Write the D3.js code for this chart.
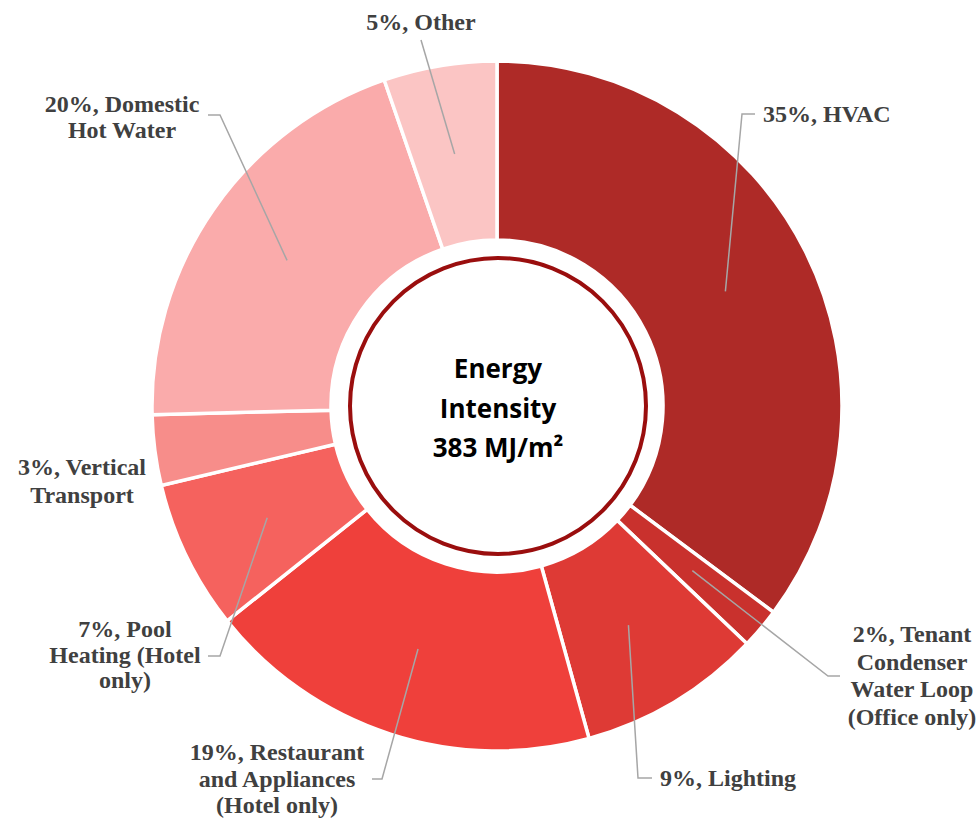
<!DOCTYPE html>
<html>
<head>
<meta charset="utf-8">
<script src="https://cdn.jsdelivr.net/npm/d3@7"></script>
<style>
  html, body { margin: 0; padding: 0; background: #ffffff; }
  svg { display: block; }
</style>
</head>
<body>
<svg id="chart" width="979" height="823"></svg>
<script>
// ---- data ----
const categories = [
  "HVAC",
  "Tenant Condenser Water Loop (Office only)",
  "Lighting",
  "Restaurant and Appliances (Hotel only)",
  "Pool Heating (Hotel only)",
  "Vertical Transport",
  "Domestic Hot Water",
  "Other"
];
// shares (%); labels show them rounded
const values = [35.2, 1.9, 8.6, 18.6, 7.0, 3.3, 20.1, 5.3];
const labelLines = [
  ["35%, HVAC"],
  ["2%, Tenant", "Condenser", "Water Loop", "(Office only)"],
  ["9%, Lighting"],
  ["19%, Restaurant", "and Appliances", "(Hotel only)"],
  ["7%, Pool", "Heating (Hotel", "only)"],
  ["3%, Vertical", "Transport"],
  ["20%, Domestic", "Hot Water"],
  ["5%, Other"]
];
const centerTitle = ["Energy", "Intensity", "383 MJ/m\u00B2"];

// ---- styles / layout ----
const colors = ["#AE2A27", "#C9312D", "#DE3A35", "#EF403B", "#F5625E", "#F78D8A", "#FAABAB", "#FBC5C4"];
const cx = 497, cy = 406, outerR = 345, innerR = 166, ringR = 148;

// label placement: text anchor x, first baseline y, anchor, line height, elbow points for leader
const labelLayout = [
  { x: 763, y: 122, anchor: "start",  lh: 27,   elbow: [[742, 114], [755, 114]] },
  { x: 912, y: 642, anchor: "middle", lh: 27.7, elbow: [[828, 676], [840, 676]] },
  { x: 660, y: 786, anchor: "start",  lh: 27,   elbow: [[638, 778], [652, 778]] },
  { x: 277, y: 760, anchor: "middle", lh: 26.5, elbow: [[382, 779], [372, 779]] },
  { x: 125, y: 637, anchor: "middle", lh: 25.7, elbow: [[220, 656], [208, 656]] },
  { x: 82,  y: 475, anchor: "middle", lh: 27.5, elbow: null },
  { x: 122, y: 112, anchor: "middle", lh: 25.6, elbow: [[220, 115], [208, 115]] },
  { x: 421, y: 30,  anchor: "middle", lh: 27,   elbow: [[421, 40]] }
];

const svg = d3.select("#chart");
const g = svg.append("g").attr("transform", `translate(${cx},${cy})`);

const data = categories.map((c, i) => ({ name: c, value: values[i], idx: i }));
const pie = d3.pie().value(d => d.value).sort(null);
const arcs = pie(data);
const arc = d3.arc().innerRadius(innerR).outerRadius(outerR);

g.selectAll("path.slice")
  .data(arcs)
  .enter().append("path")
  .attr("class", "slice")
  .attr("d", arc)
  .attr("fill", d => colors[d.data.idx])
  .attr("stroke", "#ffffff")
  .attr("stroke-width", 3.5)
  .attr("stroke-linejoin", "miter");

// leader lines
arcs.forEach(a => {
  const L = labelLayout[a.data.idx];
  if (!L.elbow) return;
  const c = arc.centroid(a);
  const pts = [[c[0] + cx, c[1] + cy]].concat(L.elbow);
  svg.append("path")
    .attr("d", d3.line()(pts))
    .attr("fill", "none")
    .attr("stroke", "#A6A6A6")
    .attr("stroke-width", 1.5);
});

// labels
arcs.forEach(a => {
  const L = labelLayout[a.data.idx];
  const t = svg.append("text")
    .attr("text-anchor", L.anchor)
    .attr("font-family", "'Liberation Serif', 'Times New Roman', serif")
    .attr("font-weight", "bold")
    .attr("font-size", 24)
    .attr("fill", "#404040");
  labelLines[a.data.idx].forEach((line, k) => {
    t.append("tspan").attr("x", L.x).attr("y", L.y + k * L.lh).text(line);
  });
});

// center ring
svg.append("circle")
  .attr("cx", cx + 1).attr("cy", cy)
  .attr("r", ringR)
  .attr("fill", "#ffffff")
  .attr("stroke", "#9A0E0E")
  .attr("stroke-width", 4);

const ct = svg.append("text")
  .attr("text-anchor", "middle")
  .attr("font-family", "'Open Sans', 'Noto Sans', sans-serif")
  .attr("font-weight", "bold")
  .attr("font-size", 26)
  .attr("fill", "#000000");
centerTitle.forEach((line, k) => {
  ct.append("tspan").attr("x", cx + 1).attr("y", 378 + k * 39.5).text(line);
});
</script>
</body>
</html>
